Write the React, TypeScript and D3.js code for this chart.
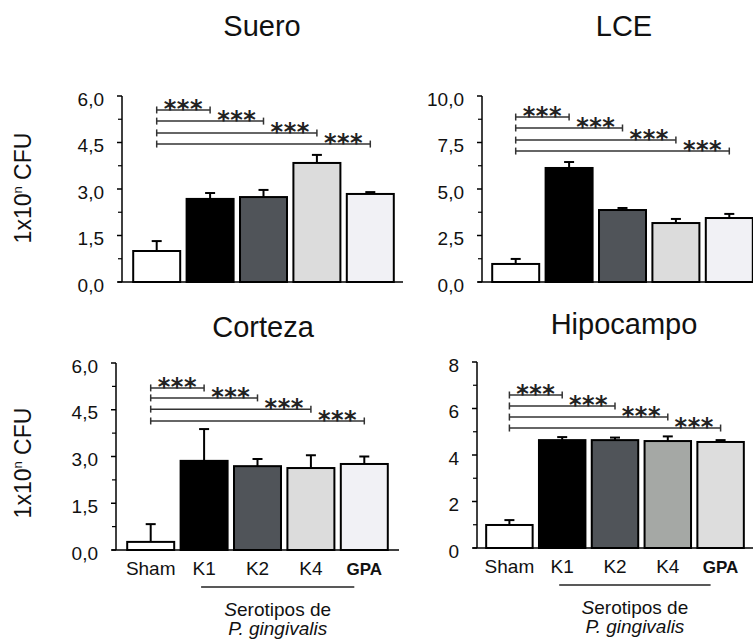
import * as d3 from 'd3';

const groups = ['Sham', 'K1', 'K2', 'K4', 'GPA'];

const sueroMean = [1.0, 2.68, 2.74, 3.84, 2.84];
const sueroSem = [0.32, 0.19, 0.23, 0.26, 0.06];
const lceMean = [0.97, 6.13, 3.87, 3.17, 3.44];
const lceSem = [0.27, 0.32, 0.11, 0.22, 0.22];
const cortezaMean = [0.26, 2.86, 2.69, 2.63, 2.76];
const cortezaSem = [0.57, 1.02, 0.23, 0.41, 0.24];
const hipoMean = [0.99, 4.64, 4.64, 4.6, 4.56];
const hipoSem = [0.21, 0.13, 0.11, 0.2, 0.08];

// significance bracket heights (data units), Sham vs K1, K2, K4, GPA
const sueroSig = [5.55, 5.19, 4.81, 4.45];
const lceSig = [8.87, 8.28, 7.63, 7.04];
const cortezaSig = [5.2, 4.88, 4.52, 4.14];
const hipoSig = [6.58, 6.11, 5.63, 5.16];

const ticks6 = [0, 1.5, 3, 4.5, 6];
const ticks10 = [0, 2.5, 5, 7.5, 10];
const ticks8 = [0, 2, 4, 6, 8];

const fillsA = ['#ffffff', '#000000', '#505459', '#dcdcdc', '#f1f1f5'];
const fillsB = ['#ffffff', '#000000', '#505459', '#a5a8a5', '#dddddd'];

const FONT = 'Liberation Sans, Arial, sans-serif';

type PanelProps = {
  title: string;
  titleX: number;
  titleY: number;
  mean: number[];
  sem: number[];
  sig: number[];
  ticks: number[];
  fmt: (v: number) => string;
  fills: string[];
  axisX: number;
  xRange: [number, number];
  xEnd: number;
  yRange: [number, number];
  showLabels: boolean;
};

const comma1 = (v: number) => d3.format('.1f')(v).replace('.', ',');
const intFmt = (v: number) => d3.format('d')(v);

function Panel(p: PanelProps) {
  const x = d3.scaleBand<string>().domain(groups).range(p.xRange).paddingInner(0.12).paddingOuter(0.06);
  const max = p.ticks[p.ticks.length - 1];
  const y = d3.scaleLinear().domain([0, max]).range(p.yRange);
  const step = p.ticks[1] - p.ticks[0];
  const minor = d3.range(step / 2, max, step);
  const cx = (g: string) => (x(g) as number) + x.bandwidth() / 2;
  const y0 = y(0);

  return (
    <g>
      <text x={p.titleX} y={p.titleY} textAnchor="middle" fontSize={29} fontFamily={FONT} fill="#111">
        {p.title}
      </text>
      {/* bars */}
      {groups.map((g, i) => (
        <g key={g}>
          <line x1={cx(g)} x2={cx(g)} y1={y(p.mean[i])} y2={y(p.mean[i] + p.sem[i])} stroke="#000" strokeWidth={2} />
          <line x1={cx(g) - 5} x2={cx(g) + 5} y1={y(p.mean[i] + p.sem[i])} y2={y(p.mean[i] + p.sem[i])} stroke="#000" strokeWidth={2} />
          <rect
            x={x(g)}
            y={y(p.mean[i])}
            width={x.bandwidth()}
            height={y0 - y(p.mean[i])}
            fill={p.fills[i]}
            stroke="#000"
            strokeWidth={2}
          />
        </g>
      ))}
      {/* axes */}
      <line x1={p.axisX} x2={p.axisX} y1={y(max)} y2={y0} stroke="#000" strokeWidth={1.5} />
      <line x1={p.axisX - 4} x2={p.xEnd} y1={y0} y2={y0} stroke="#000" strokeWidth={1.5} />
      {p.ticks.map((t) => (
        <g key={t}>
          <line x1={p.axisX - 5} x2={p.axisX} y1={y(t)} y2={y(t)} stroke="#000" strokeWidth={1.5} />
          <text x={p.axisX - 18} y={y(t)} dy="0.5em" textAnchor="end" fontSize={19} fontFamily={FONT} fill="#111">
            {p.fmt(t)}
          </text>
        </g>
      ))}
      {minor.map((t) => (
        <line key={t} x1={p.axisX - 4} x2={p.axisX} y1={y(t)} y2={y(t)} stroke="#000" strokeWidth={1.2} />
      ))}
      {/* significance brackets */}
      {p.sig.map((lv, i) => {
        const xa = cx(groups[0]);
        const xb = cx(groups[i + 1]);
        const ys = y(lv);
        const xs = (cx(groups[i]) + xb) / 2;
        return (
          <g key={i} stroke="#333" strokeWidth={1.5}>
            <line x1={xa} x2={xb} y1={ys} y2={ys} />
            <line x1={xa} x2={xa} y1={ys - 3.5} y2={ys + 3.5} />
            <line x1={xb} x2={xb} y1={ys - 3.5} y2={ys + 3.5} />
            <text
              x={xs}
              y={ys + 7}
              textAnchor="middle"
              fontSize={24}
              fontWeight="bold"
              letterSpacing={0.5}
              fontFamily="DejaVu Sans, sans-serif"
              fill="#222"
              stroke="none"
            >
              ***
            </text>
          </g>
        );
      })}
      {p.showLabels && (
        <g fontFamily={FONT} fill="#111">
          {groups.map((g) => (
            <text
              key={g}
              x={cx(g)}
              y={y0 + 25}
              textAnchor="middle"
              fontSize={g === 'GPA' ? 17 : 19}
              fontWeight={g === 'GPA' ? 'bold' : 'normal'}
            >
              {g}
            </text>
          ))}
          <line x1={cx('K1') - 3} x2={cx('GPA') - 10} y1={y0 + 37} y2={y0 + 37} stroke="#222" strokeWidth={1.5} />
          <text x={(cx('K1') + cx('GPA') - 13) / 2} y={y0 + 66} textAnchor="middle" fontSize={19}>
            <tspan fontStyle="italic">S</tspan>erotipos de
          </text>
          <text x={(cx('K1') + cx('GPA') - 13) / 2} y={y0 + 85} textAnchor="middle" fontSize={19} fontStyle="italic">
            P. gingivalis
          </text>
        </g>
      )}
    </g>
  );
}

function YLabel({ cy }: { cy: number }) {
  return (
    <text
      transform={`translate(31,${cy}) rotate(-90)`}
      textAnchor="middle"
      fontSize={23}
      fontFamily={FONT}
      fill="#111"
    >
      1x10<tspan fontSize={13} dy={-9}>n</tspan>
      <tspan dy={9}> CFU</tspan>
    </text>
  );
}

export default function App() {
  return (
    <svg width={753} height={642} style={{ position: 'absolute', left: 0, top: 0, background: '#fff' }}>
      <rect width={753} height={642} fill="#fff" />
      <YLabel cy={188} />
      <YLabel cy={463} />
      <Panel
        title="Suero" titleX={262} titleY={36}
        mean={sueroMean} sem={sueroSem} sig={sueroSig}
        ticks={ticks6} fmt={comma1} fills={fillsA}
        axisX={122} xRange={[130, 397]} xEnd={403} yRange={[282, 96]} showLabels={false}
      />
      <Panel
        title="LCE" titleX={624} titleY={36}
        mean={lceMean} sem={lceSem} sig={lceSig}
        ticks={ticks10} fmt={comma1} fills={fillsA}
        axisX={482} xRange={[489, 756]} xEnd={760} yRange={[282, 96]} showLabels={false}
      />
      <Panel
        title="Corteza" titleX={263} titleY={337}
        mean={cortezaMean} sem={cortezaSem} sig={cortezaSig}
        ticks={ticks6} fmt={comma1} fills={fillsA}
        axisX={116} xRange={[124, 391]} xEnd={399} yRange={[550, 363]} showLabels={true}
      />
      <Panel
        title="Hipocampo" titleX={624} titleY={334}
        mean={hipoMean} sem={hipoSem} sig={hipoSig}
        ticks={ticks8} fmt={intFmt} fills={fillsB}
        axisX={477} xRange={[483, 747]} xEnd={760} yRange={[548, 362]} showLabels={true}
      />
    </svg>
  );
}
